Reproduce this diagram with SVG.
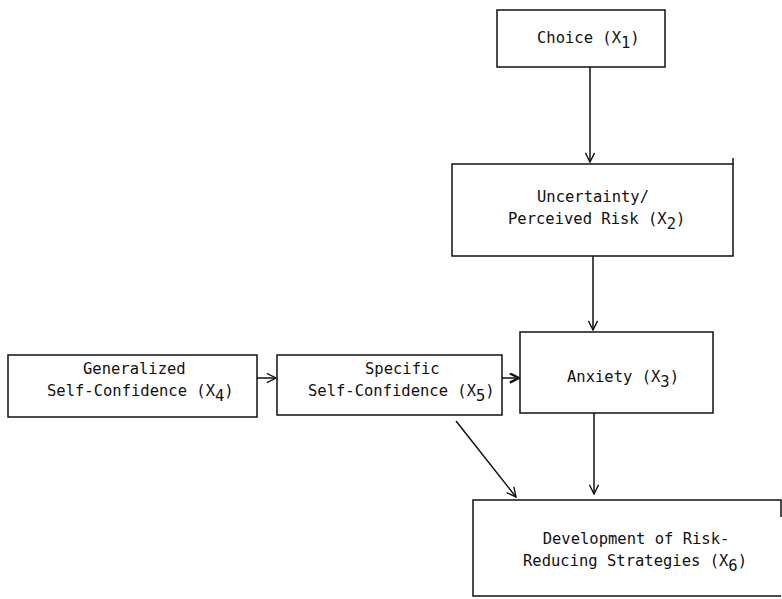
<svg xmlns="http://www.w3.org/2000/svg" width="782" height="599" viewBox="0 0 782 599">
<style>
.box{fill:none;stroke:#111;stroke-width:1.5}
.t{font-family:"DejaVu Sans Mono","Liberation Mono",monospace;font-size:15.5px;fill:#111}
.ln{fill:none;stroke:#111;stroke-width:1.5}
</style>
<defs>
<marker id="ah" viewBox="0 0 12 12" markerWidth="11" markerHeight="11" refX="11" refY="6" orient="auto" markerUnits="userSpaceOnUse">
<path d="M1,1 L11,6 L1,11" fill="none" stroke="#111" stroke-width="1.5"/>
</marker>
<marker id="ahb" viewBox="0 0 12 12" markerWidth="11" markerHeight="11" refX="11" refY="6" orient="auto" markerUnits="userSpaceOnUse">
<path d="M1,1 L11,6 L1,11" fill="none" stroke="#111" stroke-width="2.6"/>
</marker>
</defs>
<g id="connectors">
<line class="ln" x1="590" y1="67" x2="590" y2="162" marker-end="url(#ah)"/>
<line class="ln" x1="593" y1="256" x2="593" y2="330" marker-end="url(#ah)"/>
<line class="ln" x1="257" y1="378" x2="276" y2="378" marker-end="url(#ah)"/>
<line class="ln" x1="502" y1="378" x2="519" y2="378" marker-end="url(#ahb)"/>
<line class="ln" x1="594" y1="413" x2="594" y2="494" marker-end="url(#ah)"/>
<line class="ln" x1="456" y1="421" x2="516" y2="497" marker-end="url(#ah)"/>
</g>
<g id="x1">
<rect class="box" x="497" y="10" width="168" height="57"/>
<text class="t" x="537" y="43">Choice (X<tspan dy="5">1</tspan><tspan dy="-5">)</tspan></text>
</g>
<g id="x2">
<rect class="box" x="452" y="164" width="281" height="92"/>
<line class="ln" x1="733" y1="158" x2="733" y2="164"/>
<text class="t" x="537" y="202">Uncertainty/</text>
<text class="t" x="508" y="224">Perceived Risk (X<tspan dy="5">2</tspan><tspan dy="-5">)</tspan></text>
</g>
<g id="x3">
<rect class="box" x="520" y="332" width="193" height="81"/>
<text class="t" x="567" y="382">Anxiety (X<tspan dy="5">3</tspan><tspan dy="-5">)</tspan></text>
</g>
<g id="x4">
<rect class="box" x="8" y="355" width="249" height="62"/>
<text class="t" x="83" y="374">Generalized</text>
<text class="t" x="47" y="396">Self-Confidence (X<tspan dy="5">4</tspan><tspan dy="-5">)</tspan></text>
</g>
<g id="x5">
<rect class="box" x="277" y="355" width="225" height="60"/>
<text class="t" x="365" y="374">Specific</text>
<text class="t" x="308" y="396">Self-Confidence (X<tspan dy="5">5</tspan><tspan dy="-5">)</tspan></text>
</g>
<g id="x6">
<path class="box" d="M781,517 V500 H473 V596 H781"/>
<text class="t" x="636" y="544" text-anchor="middle">Development of Risk-</text>
<text class="t" x="523" y="566">Reducing Strategies (X<tspan dy="5">6</tspan><tspan dy="-5">)</tspan></text>
</g>
</svg>
